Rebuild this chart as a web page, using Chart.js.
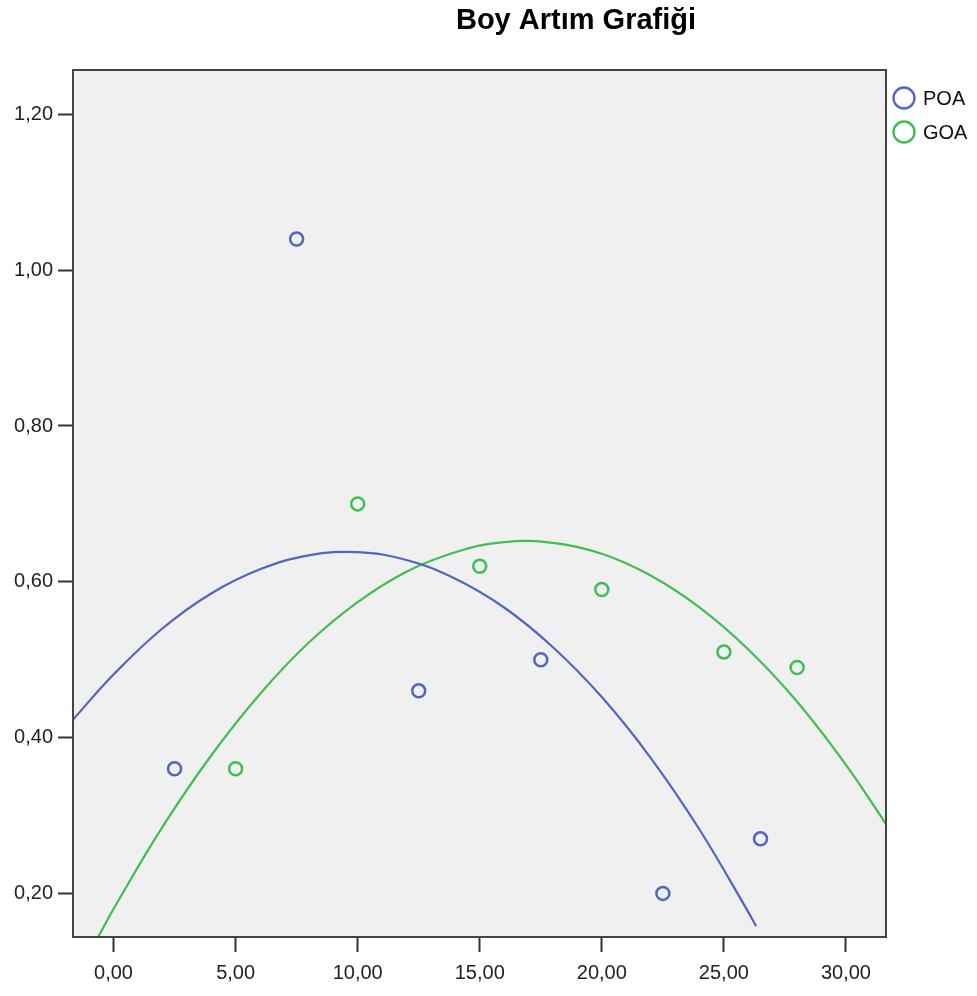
<!DOCTYPE html>
<html>
<head>
<meta charset="utf-8">
<script src="https://cdn.jsdelivr.net/npm/chart.js@4.4.1/dist/chart.umd.min.js"></script>
<style>
  body { margin: 0; background: #fff; }
  #wrap { width: 977px; height: 996px; }
</style>
</head>
<body>
<div id="wrap"><canvas id="boyChart" width="977" height="996"></canvas></div>
<script>
// gözlemler
const poaX = [2.5, 7.5, 12.5, 17.5, 22.5, 26.5];
const poaY = [0.36, 1.04, 0.46, 0.50, 0.20, 0.27];
const goaX = [5, 10, 15, 20, 25, 28];
const goaY = [0.36, 0.70, 0.62, 0.59, 0.51, 0.49];

// uyum eğrileri (resimden okunan noktalar)
const poaFitX = [-1.66, 0, 2, 4, 6, 8, 10, 12, 14, 16, 18, 20, 22, 24, 26, 26.32];
const poaFitY = [0.423, 0.481, 0.540, 0.585, 0.616, 0.634, 0.638, 0.628, 0.604, 0.567, 0.516, 0.452, 0.374, 0.282, 0.176, 0.158];
const goaFitX = [-0.63, 0, 2, 4, 6, 8, 10, 12, 14, 16, 18, 20, 22, 24, 26, 28, 30, 31.64];
const goaFitY = [0.144, 0.180, 0.285, 0.377, 0.456, 0.522, 0.574, 0.613, 0.638, 0.651, 0.650, 0.636, 0.608, 0.567, 0.513, 0.446, 0.365, 0.289];

const xTicks = [0, 5, 10, 15, 20, 25, 30];
const yTicks = [0.2, 0.4, 0.6, 0.8, 1.0, 1.2];

const mavi = '#5165c2';
const yesil = '#3fbf52';
const FONT = '"Liberation Sans", Arial, sans-serif';

const pts = (xs, ys) => xs.map((x, i) => ({ x: x, y: ys[i] }));
const virgul = v => Number(v).toFixed(2).replace('.', ',');

// arka plan, çerçeve, başlık ve açıklama
const spssPlugin = {
  id: 'spss',
  beforeDraw(chart) {
    const { ctx, chartArea: a } = chart;
    ctx.save();
    ctx.fillStyle = '#f0f0f0';
    ctx.fillRect(a.left, a.top, a.right - a.left, a.bottom - a.top);
    ctx.restore();
  },
  afterDraw(chart) {
    const { ctx, chartArea: a } = chart;
    ctx.save();
    ctx.strokeStyle = '#444';
    ctx.lineWidth = 2;
    ctx.strokeRect(a.left, a.top, a.right - a.left, a.bottom - a.top);

    ctx.fillStyle = '#000';
    ctx.font = 'bold 29px ' + FONT;
    ctx.textAlign = 'center';
    ctx.textBaseline = 'alphabetic';
    ctx.fillText('Boy Artım Grafiği', 576, 29);

    // sadece gözlem serileri açıklamada
    const items = chart.data.datasets.filter(d => !d.fit);
    items.forEach((d, i) => {
      const cy = 98 + i * 34;
      ctx.beginPath();
      ctx.arc(904, cy, 10.5, 0, Math.PI * 2);
      ctx.strokeStyle = d.borderColor;
      ctx.lineWidth = 2.4;
      ctx.stroke();
      ctx.fillStyle = '#111';
      ctx.font = '20px ' + FONT;
      ctx.textAlign = 'left';
      ctx.textBaseline = 'middle';
      ctx.fillText(d.label, 923, cy + 1);
    });
    ctx.restore();
  }
};

new Chart(document.getElementById('boyChart'), {
  type: 'scatter',
  data: {
    datasets: [
      {
        label: 'POA',
        data: pts(poaX, poaY),
        borderColor: mavi,
        backgroundColor: 'rgba(0,0,0,0)',
        pointRadius: 6.5,
        pointBorderWidth: 2.5,
        pointHoverRadius: 6.5
      },
      {
        label: 'GOA',
        data: pts(goaX, goaY),
        borderColor: yesil,
        backgroundColor: 'rgba(0,0,0,0)',
        pointRadius: 6.5,
        pointBorderWidth: 2.5,
        pointHoverRadius: 6.5
      },
      {
        label: 'POA uyum',
        fit: true,
        data: pts(poaFitX, poaFitY),
        showLine: true,
        borderColor: mavi,
        borderWidth: 2.2,
        pointRadius: 0,
        tension: 0.4
      },
      {
        label: 'GOA uyum',
        fit: true,
        data: pts(goaFitX, goaFitY),
        showLine: true,
        borderColor: yesil,
        borderWidth: 2.2,
        pointRadius: 0,
        tension: 0.4
      }
    ]
  },
  options: {
    responsive: false,
    animation: false,
    layout: { padding: { top: 70, right: 91, left: 0, bottom: 0 } },
    plugins: {
      legend: { display: false },
      title: { display: false },
      tooltip: { enabled: false }
    },
    scales: {
      x: {
        type: 'linear',
        min: -1.66,
        max: 31.64,
        afterBuildTicks: s => { s.ticks = xTicks.map(v => ({ value: v })); },
        afterFit: s => { s.height = 59; },
        border: { display: false },
        grid: { drawOnChartArea: false, tickLength: 15, tickColor: '#333', tickWidth: 2 },
        ticks: { color: '#222', font: { family: FONT, size: 20 }, padding: 9, maxRotation: 0, callback: virgul }
      },
      y: {
        type: 'linear',
        min: 0.144,
        max: 1.257,
        afterBuildTicks: s => { s.ticks = yTicks.map(v => ({ value: v })); },
        afterFit: s => { s.width = 73; },
        border: { display: false },
        grid: { drawOnChartArea: false, tickLength: 15, tickColor: '#333', tickWidth: 2 },
        ticks: { color: '#222', font: { family: FONT, size: 20 }, padding: 5, callback: virgul }
      }
    }
  },
  plugins: [spssPlugin]
});
</script>
</body>
</html>
